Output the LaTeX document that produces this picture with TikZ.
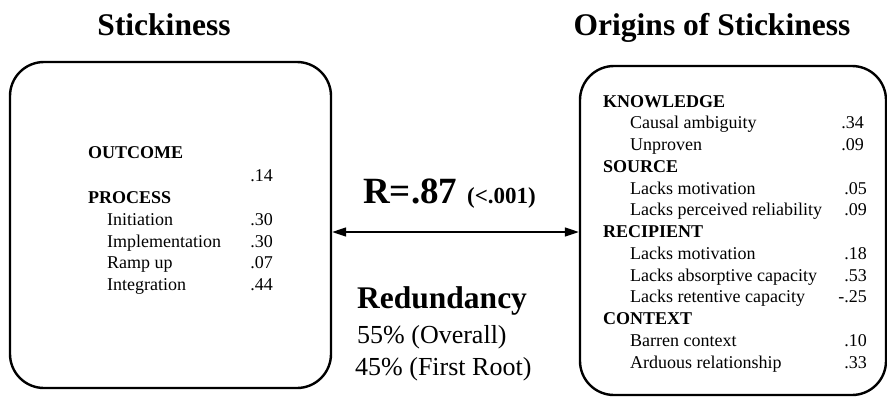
\documentclass[tikz,border=0pt]{standalone}
\usepackage{fontspec}
\setmainfont{Liberation Serif}
\usetikzlibrary{arrows.meta}

\tikzset{
  panel/.style={draw, line width=2.4pt, rounded corners=34pt, inner sep=0pt},
  title/.style={font=\fontsize{31.5}{36}\selectfont\bfseries, anchor=base, inner sep=0pt},
  head/.style={font=\fontsize{18}{21}\selectfont\bfseries, anchor=base west, inner sep=0pt},
  item/.style={font=\fontsize{18}{21}\selectfont, anchor=base west, inner sep=0pt},
  val/.style={font=\fontsize{18}{21}\selectfont, anchor=base east, inner sep=0pt},
  link/.style={line width=1.3pt, {Triangle[length=14pt,width=9pt]}-{Triangle[length=14pt,width=9pt]}},
}

\begin{document}
\begin{tikzpicture}[x=1pt, y=-1pt]
\useasboundingbox (0,0) rectangle (887,402);

% titles
\node[title] (t1) at (164,35) {Stickiness};
\node[title] (t2) at (712,35) {Origins of Stickiness};

% the two panels
\node[panel, minimum width=321pt, minimum height=326pt] (lbox) at (170.5,225) {};
\node[panel, minimum width=306pt, minimum height=329pt] (rbox) at (733,230.5) {};

% left panel contents
\node[head] (outc) at (88,158) {OUTCOME};
\node[val]  (voutc) at (273,181) {.14};
\node[head] (proc) at (88,203) {PROCESS};
\node[item] (l1) at (107,225) {Initiation};      \node[val] (v1) at (273,225) {.30};
\node[item] (l2) at (107,247) {Implementation};  \node[val] (v2) at (273,247) {.30};
\node[item] (l3) at (107,268.5) {Ramp up};       \node[val] (v3) at (273,268.5) {.07};
\node[item] (l4) at (107,290) {Integration};     \node[val] (v4) at (273,290) {.44};

% right panel contents
\def\rowsp{21.75}
\node[head] (knw) at (603,107) {KNOWLEDGE};
\node[item] (r1) at (630,107+1*\rowsp) {Causal ambiguity};            \node[val] (w1) at (864,107+1*\rowsp) {.34};
\node[item] (r2) at (630,107+2*\rowsp) {Unproven};                    \node[val] (w2) at (864,107+2*\rowsp) {.09};
\node[head] (src) at (603,107+3*\rowsp) {SOURCE};
\node[item] (r3) at (630,107+4*\rowsp) {Lacks motivation};            \node[val] (w3) at (867,107+4*\rowsp) {.05};
\node[item] (r4) at (630,107+5*\rowsp) {Lacks perceived reliability}; \node[val] (w4) at (867,107+5*\rowsp) {.09};
\node[head] (rec) at (603,107+6*\rowsp) {RECIPIENT};
\node[item] (r5) at (630,107+7*\rowsp) {Lacks motivation};            \node[val] (w5) at (867,107+7*\rowsp) {.18};
\node[item] (r6) at (630,107+8*\rowsp) {Lacks absorptive capacity};   \node[val] (w6) at (867,107+8*\rowsp) {.53};
\node[item] (r7) at (630,107+9*\rowsp) {Lacks retentive capacity};    \node[val] (w7) at (867,107+9*\rowsp) {-.25};
\node[head] (ctx) at (603,107+10*\rowsp) {CONTEXT};
\node[item] (r8) at (630,107+11*\rowsp) {Barren context};             \node[val] (w8) at (867,107+11*\rowsp) {.10};
\node[item] (r9) at (630,107+12*\rowsp) {Arduous relationship};       \node[val] (w9) at (867,107+12*\rowsp) {.33};

% correlation between the panels
\node[font=\fontsize{37}{40}\selectfont\bfseries, anchor=base west, inner sep=0pt] (corr) at (363,203) {R=.87};
\node[font=\fontsize{23}{26}\selectfont\bfseries, anchor=base west, inner sep=0pt] (sig) at (467,203) {(<.001)};
\coordinate (ay) at (0,232);
\draw[link] (lbox.east |- ay) -- (rbox.west |- ay);

% redundancy
\node[font=\fontsize{31.5}{36}\selectfont\bfseries, anchor=base west, inner sep=0pt] (red) at (357,308) {Redundancy};
\node[font=\fontsize{26}{30}\selectfont, anchor=base west, inner sep=0pt] (red1) at (357,343) {55\% (Overall)};
\node[font=\fontsize{26}{30}\selectfont, anchor=base west, inner sep=0pt] (red2) at (355,375) {45\% (First Root)};
\end{tikzpicture}
\end{document}
